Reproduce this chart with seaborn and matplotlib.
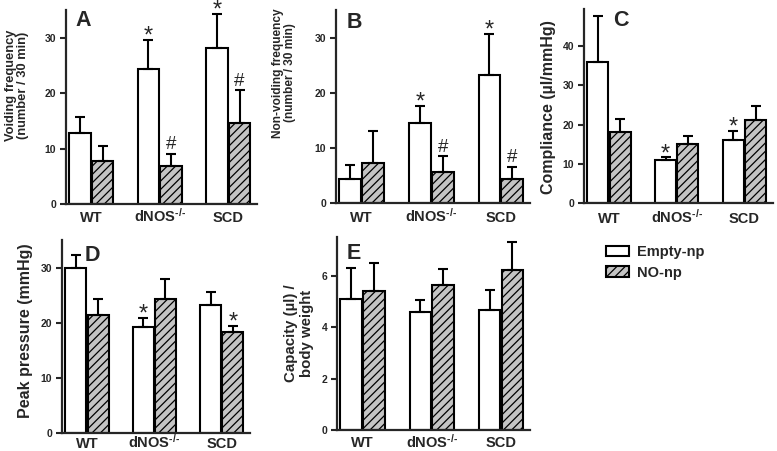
import numpy as np
import pandas as pd
import matplotlib
matplotlib.use("Agg")
import matplotlib.pyplot as plt
from matplotlib.patches import Patch
import seaborn as sns

# groups and treatments
groups = ["WT", r"dNOS$^{\text{-/-}}$", "SCD"]
treatments = ["Empty-np", "NO-np"]

# A: voiding frequency (mean, mean+SEM)
a_empty = [12.8, 24.4, 28.1]
a_empty_top = [15.7, 29.6, 34.3]
a_no = [7.8, 6.9, 14.7]
a_no_top = [10.4, 9.0, 20.5]

# B: non-voiding frequency
b_empty = [4.3, 14.5, 23.2]
b_empty_top = [6.8, 17.6, 30.6]
b_no = [7.3, 5.5, 4.3]
b_no_top = [13.0, 8.4, 6.5]

# C: compliance
c_empty = [36.0, 10.9, 16.0]
c_empty_top = [47.8, 11.7, 18.5]
c_no = [18.1, 15.1, 21.1]
c_no_top = [21.4, 17.2, 24.8]

# D: peak pressure
d_empty = [29.9, 19.2, 23.2]
d_empty_top = [32.2, 20.9, 25.6]
d_no = [21.3, 24.2, 18.3]
d_no_top = [24.3, 28.0, 19.4]

# E: capacity / body weight
e_empty = [5.1, 4.6, 4.65]
e_empty_top = [6.3, 5.05, 5.45]
e_no = [5.4, 5.65, 6.2]
e_no_top = [6.5, 6.25, 7.3]

# significance marks: (group index, treatment index, symbol)
a_marks = [(1, 0, "*"), (2, 0, "*"), (1, 1, "#"), (2, 1, "#")]
b_marks = [(1, 0, "*"), (2, 0, "*"), (1, 1, "#"), (2, 1, "#")]
c_marks = [(1, 0, "*"), (2, 0, "*")]
d_marks = [(1, 0, "*"), (2, 1, "*")]
e_marks = []

sns.set_style("ticks")
plt.rcParams["font.family"] = ["Liberation Sans", "DejaVu Sans"]
plt.rcParams["font.weight"] = "bold"
plt.rcParams["hatch.linewidth"] = 0.9
plt.rcParams["mathtext.fontset"] = "custom"
plt.rcParams["mathtext.rm"] = "Liberation Sans:bold"
plt.rcParams["mathtext.bf"] = "Liberation Sans:bold"
plt.rcParams["mathtext.it"] = "Liberation Sans:bold:italic"
plt.rcParams["mathtext.default"] = "bf"

fig = plt.figure(figsize=(7.77, 4.51), dpi=100)
W, H = 777.0, 451.0


def px_axes(left, right, y0, ytop):
    return fig.add_axes([left / W, (H - y0) / H, (right - left) / W, (y0 - ytop) / H])


panels = [
    dict(letter="A", lxy=(0.047, 1.0), box=(66, 257, 204, 10), ymax=35, ticks=[0, 10, 20, 30],
         ylabel="Voiding frequency\n(number / 30 min)", lsize=9.3, lpos=(17, 85), xpad=13,
         emp=a_empty, emp_top=a_empty_top, no=a_no, no_top=a_no_top, marks=a_marks),
    dict(letter="B", lxy=(0.057, 0.99), box=(336, 530, 202.7, 10), ymax=35, ticks=[0, 10, 20, 30],
         ylabel="Non-voiding frequency\n(number / 30 min)", lsize=8.6, lpos=(284, 73), xpad=14,
         emp=b_empty, emp_top=b_empty_top, no=b_no, no_top=b_no_top, marks=b_marks),
    dict(letter="C", lxy=(0.153, 0.995), box=(584, 773, 203.3, 9.3), ymax=49.4,
         ticks=[0, 10, 20, 30, 40],
         ylabel="Compliance (µl/mmHg)", lsize=11.5, lpos=(549, 107), xpad=14,
         emp=c_empty, emp_top=c_empty_top, no=c_no, no_top=c_no_top, marks=c_marks),
    dict(letter="D", lxy=(0.118, 0.975), box=(62, 250, 432.7, 240), ymax=35, ticks=[0, 10, 20, 30],
         ylabel="Peak pressure (mmHg)", lsize=11.5, lpos=(26, 331), xpad=11,
         emp=d_empty, emp_top=d_empty_top, no=d_no, no_top=d_no_top, marks=d_marks),
    dict(letter="E", lxy=(0.052, 0.97), box=(337, 530, 430, 237), ymax=7.5, ticks=[0, 2, 4, 6],
         ylabel="Capacity (µl) /\nbody weight", lsize=10.8, lpos=(299, 333), xpad=12.5,
         emp=e_empty, emp_top=e_empty_top, no=e_no, no_top=e_no_top, marks=e_marks),
]

for p in panels:
    ax = px_axes(*p["box"])
    df = pd.DataFrame({
        "group": groups * 2,
        "treatment": [treatments[0]] * 3 + [treatments[1]] * 3,
        "value": p["emp"] + p["no"],
    })
    sns.barplot(data=df, x="group", y="value", hue="treatment", order=groups,
                hue_order=treatments, palette=["white", "#c4c4c4"], width=0.66,
                gap=0.06, errorbar=None, edgecolor="black", linewidth=1.5,
                legend=False, ax=ax)
    tops = [p["emp_top"], p["no_top"]]
    vals = [p["emp"], p["no"]]
    bar_sets = list(ax.containers)
    centers = {}
    for k, cont in enumerate(bar_sets):
        for i, bar in enumerate(cont):
            if k == 1:
                bar.set_hatch("////")
            xc = bar.get_x() + bar.get_width() / 2
            centers[(i, k)] = xc
            ax.errorbar(xc, vals[k][i], yerr=[[0], [tops[k][i] - vals[k][i]]],
                        fmt="none", ecolor="black", elinewidth=1.5, capsize=3.3,
                        capthick=1.5, zorder=1)
    # significance symbols sit just above the error bar caps
    for gi, ti, sym in p["marks"]:
        top = tops[ti][gi]
        if sym == "*":
            ax.annotate(sym, (centers[(gi, ti)], top), xytext=(0, -2),
                        textcoords="offset points", ha="center", va="baseline",
                        fontsize=17, fontweight="normal", annotation_clip=False)
        else:
            ax.annotate(sym, (centers[(gi, ti)], top), xytext=(0, 3.5),
                        textcoords="offset points", ha="center", va="baseline",
                        fontsize=13.5, fontweight="normal", annotation_clip=False)

    ax.set_xlim(-0.37, 2.42)
    ax.set_ylim(0, p["ymax"])
    ax.set_yticks(p["ticks"])
    ax.set_xlabel("")
    ax.set_ylabel(p["ylabel"], fontsize=p["lsize"], fontweight="bold",
                  va="center", ha="center", linespacing=1.1)
    lx, ly = p["lpos"]
    l, r, y0, yt = p["box"]
    ax.yaxis.set_label_coords((lx - l) / (r - l), (y0 - ly) / (y0 - yt))
    sns.despine(ax=ax)
    for s in ["left", "bottom"]:
        ax.spines[s].set_linewidth(1.6)
    ax.tick_params(axis="y", length=4, width=1.5, labelsize=7.5, pad=3)
    ax.tick_params(axis="x", length=0, labelsize=10.5, pad=p["xpad"])
    for t in ax.get_yticklabels():
        t.set_fontweight("bold")
    for t in ax.get_xticklabels():
        t.set_fontweight("bold")
        t.set_verticalalignment("baseline")
    ax.text(p["lxy"][0], p["lxy"][1], p["letter"], transform=ax.transAxes, fontsize=15.5,
            fontweight="bold", ha="left", va="top")

handles = [Patch(facecolor="white", edgecolor="black", linewidth=1.5),
           Patch(facecolor="#c4c4c4", edgecolor="black", linewidth=1.5, hatch="////")]
fig.legend(handles, treatments, loc="upper left", bbox_to_anchor=(593 / W, 1 - 232 / H),
           frameon=False, prop={"weight": "bold", "size": 10.5}, handlelength=1.6,
           handleheight=0.75, handletextpad=0.5, labelspacing=0.45)

fig.savefig("out.png", dpi=100)
